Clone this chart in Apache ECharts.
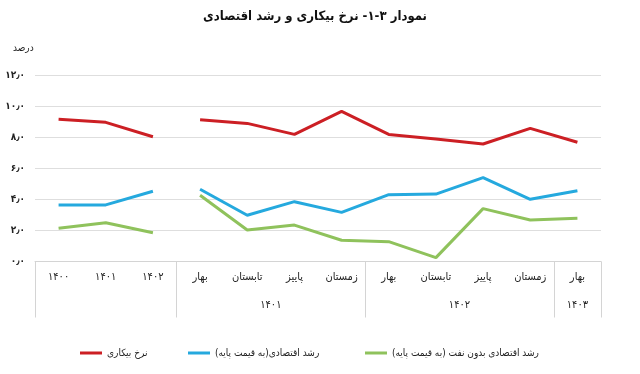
<!DOCTYPE html>
<html><head><meta charset="utf-8">
<script src="https://cdn.jsdelivr.net/npm/echarts@6/dist/echarts.min.js"></script>
<style>html,body{margin:0;padding:0;background:#fff}#c{width:640px;height:374px}</style>
</head><body><div id="c"></div>
<script>
const categories = ['۱۴۰۰','۱۴۰۱','۱۴۰۲','بهار','تابستان','پاییز','زمستان','بهار','تابستان','پاییز','زمستان','بهار'];
const groupLabels = {'5':'۱۴۰۱','9':'۱۴۰۲','11.5':'۱۴۰۳'};
const yTickLabels = ['۰٫۰','۲٫۰','۴٫۰','۶٫۰','۸٫۰','۱۰٫۰','۱۲٫۰'];
const seriesNames = ['نرخ بیکاری','رشد اقتصادی(به قیمت پایه)','رشد اقتصادی بدون نفت (به قیمت پایه)'];
// annual (1400-1402)
const unempAnnual = [9.17, 8.98, 8.05];
const growthAnnual = [3.65, 3.65, 4.53];
const nonOilAnnual = [2.14, 2.5, 1.86];
// quarterly (spring 1401 - spring 1403)
const unempQuarter = [9.15, 8.91, 8.2, 9.69, 8.2, 7.9, 7.58, 8.59, 7.69];
const growthQuarter = [4.66, 2.98, 3.86, 3.17, 4.31, 4.35, 5.41, 4.01, 4.57];
const nonOilQuarter = [4.27, 2.03, 2.35, 1.37, 1.28, 0.25, 3.41, 2.68, 2.79];

const colors = ['#cc1f24', '#25a9de', '#8fc25c'];
const font = "'DejaVu Sans Condensed', 'DejaVu Sans', sans-serif";
const nA = unempAnnual.length, nQ = unempQuarter.length;
const annual = a => a.concat(new Array(nQ).fill(null));
const quarter = a => new Array(nA).fill(null).concat(a);

function mk(name, data, color) {
  return {name, type:'line', data, symbol:'none', connectNulls:false,
    lineStyle:{color, width:3}, itemStyle:{color}, silent:true, animation:false};
}
const series = [
  mk(seriesNames[0], annual(unempAnnual), colors[0]),
  mk(seriesNames[0], quarter(unempQuarter), colors[0]),
  mk(seriesNames[1], annual(growthAnnual), colors[1]),
  mk(seriesNames[1], quarter(growthQuarter), colors[1]),
  mk(seriesNames[2], annual(nonOilAnnual), colors[2]),
  mk(seriesNames[2], quarter(nonOilQuarter), colors[2]),
];
const legendLefts = [75, 183, 360];
const chart = echarts.init(document.getElementById('c'), null, {renderer:'canvas'});
chart.setOption({
  animation:false,
  backgroundColor:'#fff',
  title:[
    {text:'نمودار ۳-۱- نرخ بیکاری و رشد اقتصادی', left:310, textAlign:'center', top:5,
     textStyle:{fontFamily:font, fontSize:13, fontWeight:'bold', color:'#111'}},
    {text:'درصد', left:8, top:38, textStyle:{fontFamily:font, fontSize:10, fontWeight:'normal', color:'#222'}}
  ],
  legend: seriesNames.map((n,i)=>({data:[n], left:legendLefts[i], top:343, icon:'rect', itemWidth:22, itemHeight:3,
    itemGap:5, textStyle:{fontFamily:font, fontSize:10, color:'#222'}, selectedMode:false})),
  grid:{left:35, right:39, top:75.5, bottom:112.5, containLabel:false},
  xAxis:[
    {type:'category', data:categories, boundaryGap:true,
     axisLine:{show:true, lineStyle:{color:'#d4d4d4', width:1}},
     axisTick:{show:true, length:56, interval:(i)=>[0,3,7,11].includes(i), lineStyle:{color:'#d4d4d4'}},
     axisLabel:{interval:0, margin:10, fontFamily:font, fontSize:11, color:'#222'}},
    {type:'value', min:0, max:12, interval:0.5, position:'bottom', offset:30,
     axisLine:{show:false}, axisTick:{show:false}, splitLine:{show:false},
     axisLabel:{margin:8, fontFamily:font, fontSize:11, color:'#222', showMinLabel:true, showMaxLabel:true,
       formatter:v=>groupLabels[String(v)]||''}}
  ],
  yAxis:{type:'value', min:0, max:12, interval:2,
    axisLine:{show:false}, axisTick:{show:false},
    splitLine:{lineStyle:{color:'#dedede', width:1}},
    axisLabel:{margin:10, fontFamily:font, fontSize:10, fontWeight:'bold', color:'#222',
      formatter:v=>yTickLabels[Math.round(v/2)]}},
  series
});
</script></body></html>
